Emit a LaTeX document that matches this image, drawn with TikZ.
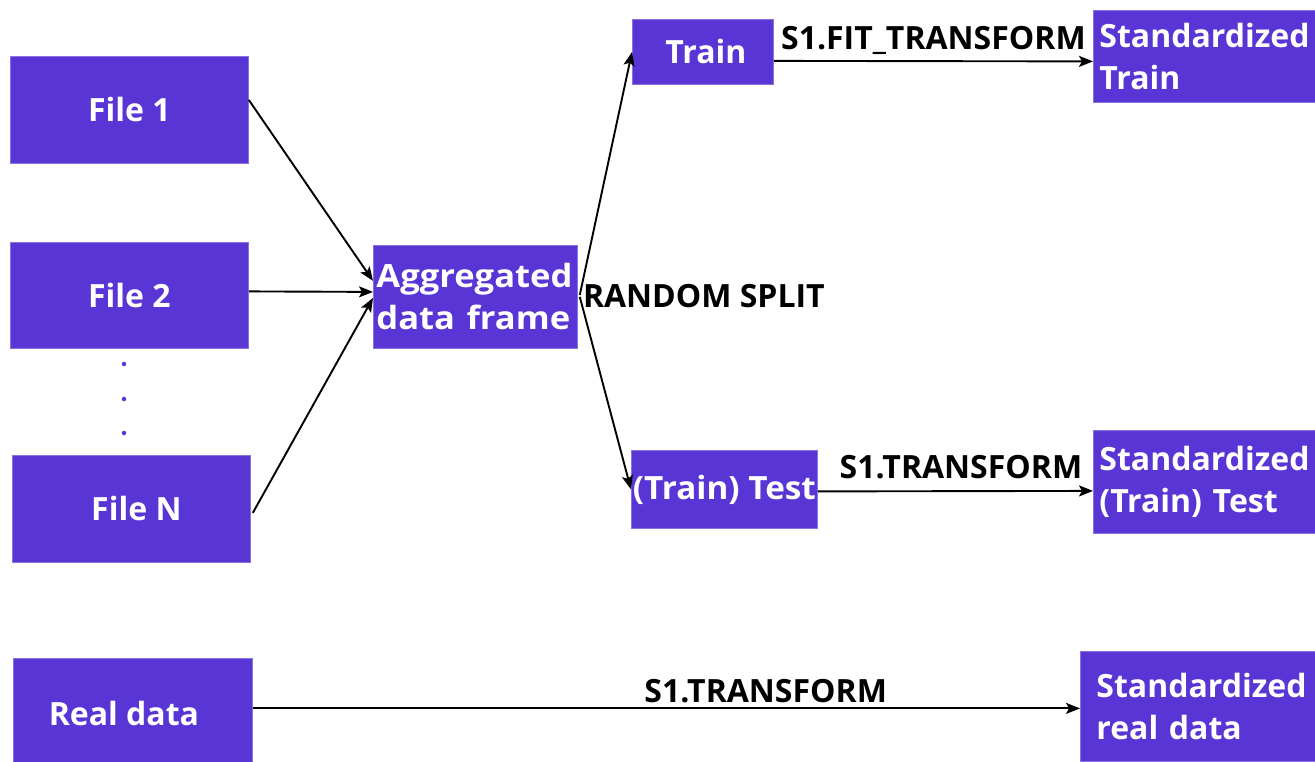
\documentclass[tikz,border=0pt]{standalone}
\usepackage{fontspec}
\setmainfont{Open Sans}
\usetikzlibrary{arrows.meta,positioning}
\definecolor{boxpurple}{HTML}{5835D4}
\begin{document}
\begin{tikzpicture}[x=1pt,y=-1pt,
  box/.style={fill=boxpurple, draw=boxpurple!70!white, line width=0.8pt, text=white,
    font=\fontsize{32}{42}\selectfont\bfseries, inner sep=0pt, anchor=north west},
  lbl/.style={text=black, font=\fontsize{32}{38}\selectfont\bfseries, inner sep=0pt},
  conn/.style={draw=black, line width=1.9pt, -{Stealth[length=14pt,width=11pt,inset=3pt]}},
  dot/.style={circle, fill=boxpurple, inner sep=0pt, minimum size=4.5pt}
]
\useasboundingbox (0,0) rectangle (1315,761);

% boxes
\node[box, minimum width=238pt, minimum height=107pt] (f1) at (10,56) {File 1};
\node[box, minimum width=238pt, minimum height=106pt] (f2) at (10,242) {File 2};
\node[box, minimum width=238pt, minimum height=107pt] (fn) at (12,455) {\hspace*{10pt}File N};
\node[box, minimum width=239pt, minimum height=115pt] (real) at (13,658) {\raisebox{5pt}{Real data}\hspace*{18pt}};
\node[box, minimum width=204pt, minimum height=103pt, align=left, text width=198pt, inner xsep=3pt] (agg) at (373,245) {\raisebox{2pt}{\parbox{198pt}{\scalebox{1.08}[1]{Aggregated}\\\scalebox{1.08}[1]{data frame}}}};
\node[box, minimum width=141pt, minimum height=65pt] (train) at (632,19) {\hspace*{6pt}Train};
\node[box, minimum width=186pt, minimum height=78pt] (test) at (631,450) {\scalebox{1.04}[1]{(Train) Test}};
\node[box, minimum width=240pt, minimum height=92pt, align=left, text width=228pt, inner xsep=6pt] (strain) at (1093,10) {\raisebox{-4pt}{\parbox{228pt}{Standardized\\Train}}};
\node[box, minimum width=240pt, minimum height=103pt, align=left, text width=228pt, inner xsep=6pt] (stest) at (1093,430) {Standardized\\(Train) Test};
\node[box, minimum width=250pt, minimum height=110pt, align=left, text width=234pt, inner xsep=16pt] (sreal) at (1080,651) {\raisebox{-3pt}{\parbox{234pt}{Standardized\\real data}}};

% dots
\node[dot] (d1) at (124,364) {};
\node[dot] (d2) at (124,399) {};
\node[dot] (d3) at (124,433) {};

% connectors
\draw[conn] ([yshift=10pt]f1.east) -- ([yshift=16pt]agg.west);
\draw[conn] ([yshift=4pt]f2.east) -- ([yshift=5pt]agg.west);
\draw[conn] ([xshift=2pt,yshift=-4pt]fn.east) -- ([yshift=-1pt]agg.west);

\draw[conn] ([xshift=2pt,yshift=2pt]agg.east) -- (train.west);
\draw[conn] ([xshift=2pt]agg.east) -- (test.west);

\draw[conn] ([yshift=-9pt]train.east) -- node[lbl, midway, anchor=base, yshift=12pt] (lfit) {S1.FIT\_TRANSFORM} ([yshift=-5pt]strain.west);
\draw[conn] ([yshift=-2pt]test.east) -- node[lbl, pos=0.52, anchor=base, yshift=13pt] (ltest) {S1.TRANSFORM} ([yshift=-9pt]stest.west);
\draw[conn] ([yshift=7.5pt]real.east) -- node[lbl, pos=0.62, anchor=base, yshift=6pt] (lreal) {S1.TRANSFORM} ([yshift=-2pt]sreal.west);

\node[lbl, anchor=base west] (split) at ([xshift=5pt,yshift=-11pt]agg.east) {RANDOM SPLIT};
\end{tikzpicture}
\end{document}
